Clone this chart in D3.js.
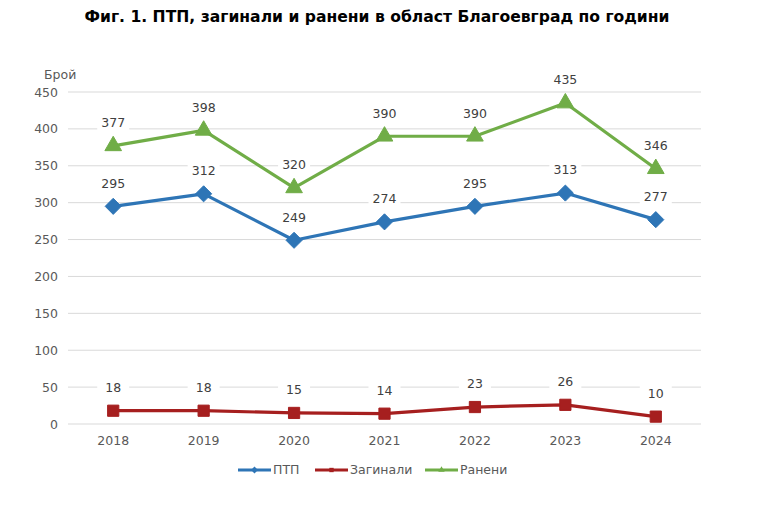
<!DOCTYPE html>
<html>
<head>
<meta charset="utf-8">
<script src="https://cdn.jsdelivr.net/npm/d3@7"></script>
<style>
  body { margin: 0; background: #fff; }
  text { font-family: "DejaVu Sans", Verdana, sans-serif; }
</style>
</head>
<body>
<div id="chart"></div>
<script>
// data
var years = ["2018", "2019", "2020", "2021", "2022", "2023", "2024"];
var ptp = [295, 312, 249, 274, 295, 313, 277];
var zaginali = [18, 18, 15, 14, 23, 26, 10];
var raneni = [377, 398, 320, 390, 390, 435, 346];
var yTicks = [0, 50, 100, 150, 200, 250, 300, 350, 400, 450];

var series = [
  { name: "ПТП", values: ptp, color: "#2E75B6", marker: d3.symbolDiamond2, size: 165, legSize: 30 },
  { name: "Загинали", values: zaginali, color: "#A61F1F", marker: d3.symbolSquare2, size: 160, legSize: 24 },
  { name: "Ранени", values: raneni, color: "#70AD47", marker: d3.symbolTriangle, size: 120, legSize: 18 }
];

var width = 765, height = 510;
var svg = d3.select("#chart").append("svg")
  .attr("width", width)
  .attr("height", height);

// title
svg.append("text")
  .attr("x", 377)
  .attr("y", 22)
  .attr("text-anchor", "middle")
  .style("font-size", "15.6px")
  .style("font-weight", "bold")
  .attr("fill", "#000")
  .text("Фиг. 1. ПТП, загинали и ранени в област Благоевград по години");

var x = d3.scaleBand().domain(years).range([68, 701]);
var y = d3.scaleLinear().domain([0, 450]).range([424, 92]);

// gridlines
svg.append("g").selectAll("line")
  .data(yTicks)
  .enter().append("line")
  .attr("x1", 68).attr("x2", 701)
  .attr("y1", d => y(d)).attr("y2", d => y(d))
  .attr("stroke", "#D9D9D9")
  .attr("stroke-width", 1);

// y axis labels
var yAxis = svg.append("g")
  .attr("transform", "translate(68,0)")
  .call(d3.axisLeft(y).tickValues(yTicks).tickSize(0).tickPadding(10));
yAxis.select(".domain").remove();
yAxis.selectAll("text")
  .style("font-size", "12.5px")
  .style("font-family", "DejaVu Sans, Verdana, sans-serif")
  .attr("fill", "#595959");

// x axis labels
var xAxis = svg.append("g")
  .attr("transform", "translate(0,424)")
  .call(d3.axisBottom(x).tickSize(0).tickPadding(12));
xAxis.select(".domain").remove();
xAxis.selectAll("text")
  .style("font-size", "12.5px")
  .style("font-family", "DejaVu Sans, Verdana, sans-serif")
  .attr("fill", "#595959");

svg.append("text")
  .attr("x", 44)
  .attr("y", 79)
  .style("font-size", "12.5px")
  .attr("fill", "#595959")
  .text("Брой");

var line = d3.line()
  .x((d, i) => x(years[i]) + x.bandwidth() / 2)
  .y(d => y(d));

series.forEach(function(s) {
  var g = svg.append("g");

  // data labels with white box behind
  var lab = g.selectAll(".lab")
    .data(s.values)
    .enter().append("g")
    .attr("transform", (d, i) => "translate(" + (x(years[i]) + x.bandwidth() / 2) + "," + (y(d) - 23) + ")");
  lab.append("rect")
    .attr("x", -16).attr("y", -9)
    .attr("width", 32).attr("height", 18)
    .attr("fill", "#fff");
  lab.append("text")
    .attr("text-anchor", "middle")
    .attr("dy", "0.35em")
    .style("font-size", "12.5px")
    .attr("fill", "#404040")
    .text(d => d);

  g.append("path")
    .datum(s.values)
    .attr("d", line)
    .attr("fill", "none")
    .attr("stroke", s.color)
    .attr("stroke-width", 3.2)
    .attr("stroke-linejoin", "round");

  g.selectAll(".pt")
    .data(s.values)
    .enter().append("path")
    .attr("d", d3.symbol().type(s.marker).size(s.size))
    .attr("transform", (d, i) => "translate(" + (x(years[i]) + x.bandwidth() / 2) + "," + y(d) + ")")
    .attr("fill", s.color)
    .attr("stroke", s.color);
});

// legend
var legX = [238, 315, 425];
var leg = svg.append("g").selectAll("g")
  .data(series)
  .enter().append("g")
  .attr("transform", (d, i) => "translate(" + legX[i] + ",470)");
leg.append("line")
  .attr("x1", 0).attr("x2", 33)
  .attr("stroke", d => d.color)
  .attr("stroke-width", 3);
leg.append("path")
  .attr("d", d => d3.symbol().type(d.marker).size(d.legSize)())
  .attr("transform", "translate(16.5,0)")
  .attr("fill", d => d.color);
leg.append("text")
  .attr("x", 35)
  .attr("dy", "0.35em")
  .style("font-size", "12.5px")
  .attr("fill", "#595959")
  .text(d => d.name);
</script>
</body>
</html>
